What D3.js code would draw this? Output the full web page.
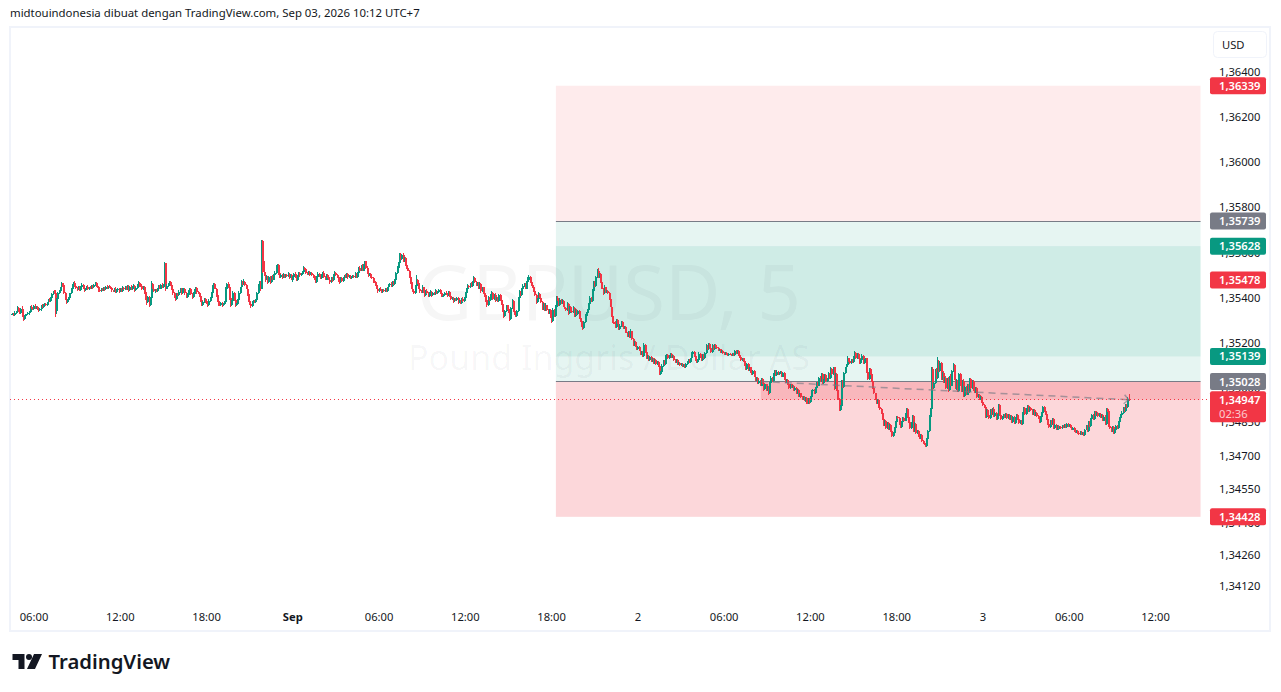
<!DOCTYPE html>
<html>
<head>
<meta charset="utf-8">
<script src="https://d3js.org/d3.v7.min.js"></script>
<style>
    html, body { margin: 0; padding: 0; background: #fff; }
    svg { display: block; }
    text { font-family: "Noto Sans", sans-serif; }
</style>
</head>
<body>
<div id="graph"></div>
<script>
"use strict";

// 5 minute candles, one row per hour. closes are in points above priceBase
var priceBase = 1.34;
var lastBarTime = "2026-09-03T10:10:00Z";
var firstOpen = 1324;

var closes = [
    1326,1326,1322,1331,1335,1353,1344,1331,1349,1318,1305,1318,
    1322,1327,1331,1335,1358,1353,1349,1362,1353,1358,1349,1344,
    1349,1362,1358,1366,1371,1366,1380,1389,1384,1397,1415,1424,
    1420,1340,1395,1420,1428,1445,1465,1455,1420,1395,1380,1388,
    1400,1420,1437,1455,1466,1450,1442,1437,1446,1433,1446,1455,
    1441,1433,1437,1446,1437,1446,1442,1451,1446,1455,1464,1451,
    1446,1433,1428,1437,1433,1442,1437,1446,1442,1451,1446,1442,
    1433,1428,1437,1424,1433,1437,1428,1437,1428,1442,1437,1446,
    1437,1451,1433,1446,1437,1446,1451,1433,1442,1455,1464,1451,
    1450,1437,1446,1425,1395,1380,1402,1366,1400,1460,1440,1430,
    1435,1428,1437,1450,1440,1455,1445,1458,1555,1440,1450,1460,
    1468,1455,1437,1420,1402,1393,1415,1411,1424,1437,1420,1433,
    1437,1420,1402,1411,1428,1437,1415,1402,1415,1433,1442,1424,
    1420,1405,1390,1368,1380,1395,1385,1375,1368,1385,1400,1420,
    1445,1460,1440,1410,1385,1372,1365,1378,1368,1372,1380,1440,
    1460,1445,1400,1365,1385,1420,1390,1365,1372,1388,1420,1445,
    1470,1460,1470,1455,1440,1415,1385,1370,1362,1380,1385,1380,
    1390,1420,1450,1470,1440,1650,1515,1500,1480,1490,1470,1490,
    1470,1492,1480,1500,1510,1530,1545,1510,1490,1500,1490,1500,
    1490,1500,1495,1505,1490,1500,1480,1490,1505,1490,1478,1495,
    1510,1500,1505,1515,1530,1525,1510,1505,1515,1505,1510,1500,
    1495,1480,1470,1490,1505,1495,1485,1500,1510,1490,1480,1500,
    1490,1480,1470,1485,1478,1500,1510,1500,1490,1475,1470,1485,
    1475,1485,1495,1490,1505,1490,1495,1485,1490,1495,1490,1505,
    1490,1510,1530,1520,1540,1520,1545,1560,1530,1510,1500,1505,
    1490,1485,1475,1470,1455,1440,1430,1440,1435,1425,1435,1430,
    1440,1430,1445,1455,1460,1450,1470,1460,1480,1510,1530,1555,
    1590,1570,1590,1560,1575,1545,1530,1520,1490,1470,1440,1430,
    1420,1450,1480,1465,1440,1430,1425,1445,1425,1410,1430,1420,
    1405,1420,1425,1410,1420,1415,1430,1420,1425,1435,1420,1405,
    1405,1410,1420,1415,1410,1425,1405,1395,1400,1385,1395,1390,
    1400,1380,1385,1375,1395,1385,1400,1420,1440,1450,1445,1460,
    1450,1470,1485,1470,1455,1465,1440,1460,1430,1445,1420,1410,
    1390,1365,1400,1390,1410,1420,1395,1410,1390,1400,1385,1410,
    1390,1370,1345,1320,1340,1365,1350,1335,1305,1355,1385,1340,
    1325,1320,1340,1400,1425,1410,1440,1450,1460,1440,1470,1480,
    1490,1470,1455,1445,1430,1410,1380,1395,1415,1400,1380,1350,
    1370,1345,1365,1345,1330,1345,1320,1295,1345,1320,1360,1400,
    1390,1365,1390,1375,1385,1360,1355,1345,1370,1330,1360,1340,
    1335,1355,1320,1345,1325,1340,1310,1295,1280,1265,1290,1320,
    1330,1345,1370,1400,1385,1430,1470,1450,1490,1520,1490,1505,
    1470,1440,1420,1445,1425,1430,1420,1395,1360,1320,1290,1285,
    1270,1300,1285,1260,1275,1290,1275,1265,1270,1245,1230,1250,
    1225,1250,1215,1190,1205,1185,1170,1180,1165,1150,1160,1140,
    1190,1160,1130,1140,1125,1135,1120,1130,1110,1125,1105,1115,
    1095,1060,1070,1095,1120,1105,1135,1145,1130,1140,1150,1135,
    1140,1125,1115,1125,1105,1110,1100,1105,1095,1100,1090,1105,
    1115,1125,1115,1130,1150,1160,1140,1125,1115,1125,1150,1135,
    1125,1145,1130,1155,1185,1170,1195,1175,1160,1185,1170,1190,
    1180,1175,1165,1170,1160,1165,1155,1150,1155,1150,1145,1150,
    1148,1145,1150,1145,1165,1155,1165,1145,1135,1125,1130,1120,
    1100,1085,1105,1080,1090,1070,1060,1075,1050,1035,1045,1020,
    1030,1010,1040,1020,995,1015,990,1005,975,1020,1045,1030,
    1060,1075,1055,1070,1060,1065,1070,1050,1065,1040,1025,1035,
    1015,1000,1015,1005,1010,990,1000,975,990,965,975,960,
    950,960,945,955,930,950,935,960,985,990,975,1000,
    1020,1010,1045,1030,1060,1020,1035,1055,1030,1040,1060,1045,
    1085,1060,1090,1000,1060,990,950,900,920,1030,1005,1065,
    1090,1100,1130,1120,1110,1125,1115,1135,1155,1130,1150,1130,
    1110,1125,1140,1110,1125,1130,1070,1040,1085,1060,1030,1000,
    975,950,930,945,915,905,890,860,835,855,820,845,
    815,835,810,785,800,820,850,870,865,840,825,850,
    865,855,880,905,870,850,820,845,875,810,840,800,
    810,785,775,790,765,755,750,740,775,810,870,905,
    1085,1000,1020,1080,1045,1120,1075,1110,1040,1065,1025,1045,
    1000,1040,990,1050,1010,1075,1100,1040,1000,1030,985,1060,
    1010,985,1030,965,1005,970,1015,980,1040,1000,1030,990,
    980,1000,960,970,950,960,935,925,915,870,900,880,
    865,900,885,905,875,890,860,880,925,880,860,870,
    880,870,885,865,880,860,875,850,870,845,865,880,
    860,845,855,840,890,910,885,905,920,895,910,900,
    885,900,880,890,875,865,850,870,890,915,895,885,
    860,840,825,855,840,860,820,835,815,830,820,825,
    820,830,825,835,825,840,830,835,825,815,820,810,
    805,810,800,795,805,795,800,790,815,830,810,850,
    830,860,880,860,895,880,890,875,885,870,880,855,
    870,840,905,895,830,820,810,825,800,815,830,820,
    850,865,880,890,910,895,925,915,950,947
];

var upperWicks = [
    0,4,4,8,4,9,4,8,4,13,4,4,
    4,0,4,4,4,9,4,4,8,4,4,4,
    4,4,8,4,4,4,0,4,8,4,4,4,
    8,14,4,4,4,4,4,0,9,4,4,4,
    4,0,4,4,4,9,4,4,4,4,4,9,
    4,4,4,4,9,0,4,4,4,4,4,4,
    4,4,9,4,4,4,4,4,9,0,4,4,
    4,0,4,9,4,4,4,4,4,9,4,4,
    4,4,4,4,9,4,9,4,4,4,9,4,
    4,9,4,4,4,9,4,4,4,13,4,4,
    4,4,4,4,4,4,9,4,3,0,9,4,
    4,4,9,4,4,4,4,4,9,4,4,9,
    4,4,4,9,4,4,4,4,9,4,4,4,
    4,4,4,9,4,4,4,4,4,9,4,4,
    9,4,4,4,4,4,9,4,4,4,4,9,
    4,9,4,4,4,9,4,4,4,4,9,4,
    9,4,13,4,4,4,4,9,4,4,4,4,
    4,4,9,4,4,5,5,45,4,9,4,4,
    4,4,9,4,9,13,4,4,9,4,4,9,
    4,4,4,9,4,4,4,4,4,9,4,4,
    4,4,4,4,9,4,4,4,4,4,4,4,
    4,4,4,4,9,4,4,4,4,9,4,4,
    4,9,4,4,4,4,9,4,4,4,4,4,
    4,4,4,9,4,4,4,4,4,4,4,9,
    4,4,4,9,4,9,4,4,4,9,4,4,
    4,4,4,4,4,4,4,4,9,4,4,4,
    4,4,4,4,4,9,4,4,4,4,9,4,
    7,9,4,9,4,4,4,9,4,4,4,4,
    9,4,18,4,4,4,4,9,4,4,4,9,
    4,4,9,4,4,4,9,4,4,4,4,4,
    4,4,4,9,4,4,4,4,4,4,4,4,
    4,4,4,4,4,9,4,4,4,9,4,4,
    9,4,9,4,4,4,4,9,4,4,4,4,
    9,4,9,4,4,9,4,4,9,4,4,4,
    4,4,9,4,4,4,4,4,4,4,9,4,
    4,4,4,4,9,4,4,9,4,4,4,9,
    9,4,4,4,4,9,4,4,9,4,4,4,
    4,4,9,4,4,4,4,4,9,4,9,9,
    9,4,9,4,9,4,4,4,9,4,4,4,
    4,9,4,4,4,4,4,4,4,4,4,9,
    4,4,4,9,4,9,4,4,4,6,9,4,
    4,4,4,9,4,4,4,4,4,4,4,4,
    9,4,4,4,9,4,4,4,4,4,4,4,
    4,9,4,4,4,4,4,4,4,4,4,4,
    9,4,4,4,4,4,4,4,4,4,4,4,
    4,4,4,9,4,4,9,4,4,4,4,4,
    4,4,4,4,4,4,4,4,4,4,4,4,
    4,4,4,4,9,4,4,4,4,4,9,4,
    4,4,4,4,9,4,4,4,4,9,4,4,
    4,4,4,4,4,4,4,4,4,4,4,4,
    4,4,4,4,4,4,4,4,4,4,4,4,
    4,9,4,4,4,4,4,4,4,4,4,4,
    4,4,4,4,4,4,4,4,4,4,9,4,
    4,4,4,9,4,4,4,4,4,4,4,4,
    4,4,4,4,4,4,4,4,4,4,4,4,
    4,4,4,4,4,4,4,4,4,4,4,4,
    4,4,4,9,4,4,4,4,4,4,9,4,
    9,4,4,4,4,4,4,4,4,4,4,4,
    4,4,9,4,4,4,4,4,9,4,4,4,
    4,4,9,4,4,4,4,4,4,4,4,4,
    4,4,4,4,4,4,4,4,4,4,4,4,
    4,4,4,4,4,4,4,4,4,4,9,4,
    4,4,9,4,4,4,9,4,4,4,9,4,
    4,4,4,4,4,4,4,4,4,4,9,4,
    6,9,4,4,9,17,4,9,4,4,9,4,
    9,4,9,4,9,4,9,4,4,9,4,4,
    4,4,4,9,4,4,4,4,4,4,4,4,
    4,4,4,4,4,4,4,4,4,4,4,4,
    4,4,4,4,9,4,4,4,4,4,4,4,
    4,4,4,4,4,4,4,4,4,4,4,4,
    4,4,4,4,4,4,4,4,4,4,4,4,
    4,4,4,4,4,4,4,4,4,4,4,4,
    4,4,4,4,4,4,4,4,4,4,4,4,
    4,4,4,4,4,4,4,4,4,4,4,4,
    4,4,4,4,4,4,4,4,4,4,4,4,
    4,4,4,4,4,4,4,4,4,4,4,4,
    4,9,4,4,4,4,4,4,4,4,4,4,
    4,4,4,9,4,4,4,4,9,22
];

var lowerWicks = [
    0,4,4,4,4,4,9,4,4,4,9,4,
    4,4,4,9,4,4,4,4,4,4,4,9,
    4,9,4,4,4,4,4,4,4,4,4,4,
    4,25,13,4,4,4,4,9,4,4,9,4,
    4,4,4,4,4,4,4,9,4,4,4,4,
    4,9,4,4,4,4,4,4,9,4,4,4,
    4,9,4,4,4,4,9,4,4,4,4,4,
    9,4,4,4,4,4,9,4,4,4,4,4,
    4,4,9,4,4,4,4,9,4,4,4,4,
    4,4,4,9,4,13,4,9,4,4,4,4,
    9,4,4,4,4,4,4,4,9,9,4,4,
    4,4,4,9,4,9,4,4,4,4,9,4,
    4,9,4,4,4,4,4,9,4,4,4,9,
    4,4,9,4,4,4,9,4,9,4,4,4,
    4,4,4,9,4,9,4,4,9,4,4,4,
    4,4,9,9,4,4,4,9,4,4,4,4,
    4,4,4,4,4,9,4,4,9,4,4,4,
    4,4,4,4,9,4,4,4,9,4,9,4,
    9,4,4,4,4,4,4,9,4,4,9,4,
    4,4,4,4,9,4,4,9,4,4,4,4,
    4,9,4,4,4,4,4,4,4,9,4,4,
    9,4,4,4,4,4,4,4,4,4,4,4,
    4,4,9,4,9,4,4,4,4,4,9,4,
    4,4,4,4,4,9,4,4,4,4,4,4,
    4,4,4,4,4,4,4,4,4,4,9,4,
    4,4,9,4,4,4,9,4,4,4,4,4,
    4,4,4,4,4,4,4,4,4,4,4,4,
    4,4,4,4,4,4,4,4,4,9,4,4,
    4,4,4,4,4,9,4,4,4,9,4,4,
    4,4,4,9,4,4,4,4,4,4,4,4,
    4,4,4,4,9,4,4,4,4,9,4,4,
    4,9,4,4,4,4,4,4,4,4,4,4,
    4,4,4,4,4,4,4,4,9,4,4,9,
    9,9,4,4,4,4,4,4,9,4,4,4,
    4,4,9,9,4,4,4,4,9,4,4,4,
    4,4,4,4,4,4,4,4,4,4,4,4,
    4,4,4,4,4,4,9,4,4,4,4,4,
    4,4,4,4,4,4,9,9,4,4,4,4,
    4,4,4,4,4,4,4,4,4,9,4,4,
    4,4,4,4,4,4,4,4,9,9,4,4,
    4,4,4,4,4,4,4,4,4,4,4,4,
    4,4,9,4,4,4,4,4,4,4,4,4,
    4,4,4,4,4,4,4,4,4,4,4,4,
    4,4,4,4,4,4,4,4,4,4,4,4,
    4,4,4,4,4,4,4,4,4,4,4,4,
    4,4,4,4,4,4,4,4,4,4,4,4,
    4,4,4,4,4,4,4,4,4,4,4,4,
    4,4,4,4,4,4,4,4,4,4,4,4,
    4,4,4,4,4,4,4,4,4,4,4,4,
    4,4,4,4,4,4,4,4,4,4,4,4,
    4,4,4,4,4,4,4,4,4,4,4,4,
    4,4,4,4,4,4,4,4,4,4,4,4,
    4,4,4,4,9,4,4,4,9,4,4,4,
    4,4,4,4,4,4,4,4,4,4,4,4,
    4,4,4,4,4,4,4,4,4,4,4,4,
    4,4,4,9,4,4,9,4,4,4,4,4,
    4,4,4,4,4,4,4,4,4,4,4,4,
    4,4,4,9,4,4,4,4,4,4,4,4,
    4,4,4,4,4,4,4,4,4,4,4,4,
    4,4,4,4,4,4,4,4,4,4,4,4,
    4,4,4,4,4,4,4,4,4,4,4,4,
    4,4,4,4,4,4,4,4,4,4,4,4,
    4,4,4,4,4,4,4,4,4,4,4,4,
    4,4,4,4,4,4,4,4,4,4,4,4,
    4,9,4,4,4,4,4,4,4,4,4,4,
    4,4,9,4,4,4,4,4,4,9,4,4,
    4,4,4,4,4,4,4,4,4,4,4,4,
    4,4,4,4,4,4,4,4,4,4,4,4,
    4,4,4,4,4,4,4,4,4,4,4,4,
    4,4,4,4,4,4,4,4,4,4,4,4,
    4,4,4,4,4,4,4,4,4,4,4,4,
    4,4,4,4,4,4,4,4,4,4,4,4,
    4,4,4,4,4,4,4,4,4,4,4,4,
    4,4,4,4,4,4,4,4,4,4,4,4,
    4,4,4,4,4,4,4,4,4,4,4,4,
    4,4,4,4,4,4,4,4,4,4,4,4,
    4,4,4,4,4,4,4,4,4,4,4,4,
    4,4,4,4,4,4,4,4,4,4
];

var priceTicks = [1.364, 1.362, 1.36, 1.358, 1.356, 1.354, 1.352, 1.35, 1.3485, 1.347, 1.3455, 1.344, 1.3426, 1.3412];

var timeTicks = [
    "2026-08-31T06:00:00Z", "2026-08-31T12:00:00Z", "2026-08-31T18:00:00Z", "2026-09-01T00:00:00Z",
    "2026-09-01T06:00:00Z", "2026-09-01T12:00:00Z", "2026-09-01T18:00:00Z", "2026-09-02T00:00:00Z",
    "2026-09-02T06:00:00Z", "2026-09-02T12:00:00Z", "2026-09-02T18:00:00Z", "2026-09-03T00:00:00Z",
    "2026-09-03T06:00:00Z", "2026-09-03T12:00:00Z"
];
var timeLabels = ["06:00", "12:00", "18:00", "Sep", "06:00", "12:00", "18:00", "2", "06:00", "12:00", "18:00", "3", "06:00", "12:00"];

var tagPrices = [1.36339, 1.35739, 1.35628, 1.35478, 1.35139, 1.35028, 1.34428];
var tagColors = ["#f23645", "#787b86", "#089981", "#f23645", "#089981", "#787b86", "#f23645"];

var lastPrice = 1.34947;
var countdown = "02:36";

var zoneStart = "2026-09-01T18:20:00Z";
var zoneEnd = "2026-09-03T15:10:00Z";
var fillStart = "2026-09-02T08:35:00Z";
var stopPrice = 1.36339;
var upperLine = 1.35739;
var targetTop = 1.35628;
var targetBottom = 1.35139;
var lowerLine = 1.35028;
var lowerStop = 1.34428;

var title = "midtouindonesia dibuat dengan TradingView.com, Sep 03, 2026 10:12 UTC+7";

var width = 1281, height = 692,
    green = "#089981", red = "#f23645", ink = "#131722";

var x = d3.scaleUtc()
    .domain([new Date("2026-09-01T00:00:00Z"), new Date("2026-09-03T12:00:00Z")])
    .range([292.3, 1155]);
var y = d3.scaleLinear().domain([1.364, 1.3412]).range([72, 586.3]);

var svg = d3.select("#graph").append("svg")
    .attr("width", width)
    .attr("height", height)
    .attr("viewBox", "0 0 " + width + " " + height);

// frame
svg.append("rect")
    .attr("x", 10).attr("y", 27).attr("width", 1260).attr("height", 604)
    .attr("fill", "#fff").attr("stroke", "#f0f3fa").attr("stroke-width", 2);

svg.append("text")
    .attr("x", 10).attr("y", 17)
    .attr("font-size", 11.4).attr("fill", ink)
    .text(title);

// watermark
var watermark = svg.append("g").attr("text-anchor", "middle").attr("fill", "rgba(19,23,34,0.04)");
watermark.append("text").attr("x", 609).attr("y", 320).attr("font-size", 76).text("GBPUSD, 5");
watermark.append("text").attr("x", 609).attr("y", 370).attr("font-size", 34).text("Pound Inggris / Dollar AS");

// position zones
function zone(t0, t1, p0, p1, fill) {
    return svg.append("rect")
        .attr("x", x(new Date(t0)))
        .attr("y", y(p0))
        .attr("width", x(new Date(t1)) - x(new Date(t0)))
        .attr("height", y(p1) - y(p0))
        .attr("fill", fill);
}
zone(zoneStart, zoneEnd, stopPrice, upperLine, "rgba(242,54,69,0.1)");
zone(zoneStart, zoneEnd, upperLine, lowerLine, "rgba(8,153,129,0.1)");
zone(zoneStart, zoneEnd, targetTop, targetBottom, "rgba(8,153,129,0.1)");
zone(zoneStart, zoneEnd, lowerLine, lowerStop, "rgba(242,54,69,0.2)");
zone(fillStart, zoneEnd, lowerLine, lastPrice, "rgba(242,54,69,0.2)");

[upperLine, lowerLine].forEach(function(p){
    svg.append("line")
        .attr("x1", x(new Date(zoneStart))).attr("x2", x(new Date(zoneEnd)))
        .attr("y1", Math.floor(y(p)) + 0.5).attr("y2", Math.floor(y(p)) + 0.5)
        .attr("stroke", "#787b86").attr("stroke-width", 1);
});

// candles
var lastTime = new Date(lastBarTime).getTime();
var bars = closes.map(function(c, i){
    var open = i ? closes[i - 1] : firstOpen;
    return {
        time: new Date(lastTime - (closes.length - 1 - i) * 300000),
        open: priceBase + open / 1e5,
        close: priceBase + c / 1e5,
        high: priceBase + (Math.max(open, c) + upperWicks[i]) / 1e5,
        low: priceBase + (Math.min(open, c) - lowerWicks[i]) / 1e5
    };
});

function candleColor(d){ return d.close >= d.open ? green : red; }

var candles = svg.append("g").attr("shape-rendering", "crispEdges")
    .selectAll("g")
    .data(bars)
    .enter()
    .append("g");

// wick 1px, body 2px
candles.append("rect")
    .attr("x", function(d){ return Math.round(x(d.time)); })
    .attr("y", function(d){ return y(d.high); })
    .attr("width", 1)
    .attr("height", function(d){ return Math.max(1, y(d.low) - y(d.high)); })
    .attr("fill", candleColor);
candles.append("rect")
    .attr("x", function(d){ return Math.round(x(d.time)); })
    .attr("y", function(d){ return y(Math.max(d.open, d.close)); })
    .attr("width", 2)
    .attr("height", function(d){ return Math.max(1, Math.abs(y(d.close) - y(d.open))); })
    .attr("fill", candleColor);

// fill trend line
svg.append("line")
    .attr("x1", x(new Date(fillStart))).attr("y1", y(lowerLine))
    .attr("x2", x(new Date(lastTime))).attr("y2", y(lastPrice))
    .attr("stroke", "rgba(120,123,134,0.65)")
    .attr("stroke-width", 1.5)
    .attr("stroke-dasharray", "7 5");
svg.append("path")
    .attr("transform", "translate(" + x(new Date(lastTime)) + "," + y(lastPrice) + ")")
    .attr("d", "M-4,-5 L0,0 L-5,4")
    .attr("fill", "none")
    .attr("stroke", "rgba(120,123,134,0.65)")
    .attr("stroke-width", 1.5);

// last price line
svg.append("line")
    .attr("x1", 10).attr("x2", 1208)
    .attr("y1", Math.floor(y(lastPrice)) + 0.5).attr("y2", Math.floor(y(lastPrice)) + 0.5)
    .attr("stroke", red)
    .attr("shape-rendering", "crispEdges")
    .attr("stroke-dasharray", "1 3");

// axes
var yAxis = d3.axisRight(y)
    .tickValues(priceTicks)
    .tickSize(0)
    .tickPadding(0)
    .tickFormat(function(d){ return d3.format(".5f")(d).replace(".", ","); });
var yAxisG = svg.append("g").attr("transform", "translate(1219,0)").call(yAxis);
yAxisG.select(".domain").remove();
yAxisG.selectAll("text").attr("font-size", 11.2).attr("fill", ink).attr("font-family", null);

var xAxis = d3.axisBottom(x)
    .tickValues(timeTicks.map(function(t){ return new Date(t); }))
    .tickSize(0)
    .tickPadding(0)
    .tickFormat(function(d, i){ return timeLabels[i]; });
var xAxisG = svg.append("g").attr("transform", "translate(0,613.5)").call(xAxis);
xAxisG.select(".domain").remove();
xAxisG.selectAll("text")
    .attr("font-size", 11.2).attr("fill", ink).attr("font-family", null)
    .attr("font-weight", function(d, i){ return timeLabels[i] == "Sep" ? "bold" : null; });

// price tags
var tags = svg.append("g").selectAll("g")
    .data(tagPrices)
    .enter()
    .append("g")
    .attr("transform", function(d){ return "translate(1210," + y(d) + ")"; });
tags.append("rect")
    .attr("y", -8.5).attr("width", 56).attr("height", 17).attr("rx", 2)
    .attr("fill", function(d, i){ return tagColors[i]; });
tags.append("text")
    .attr("x", 9).attr("dy", "0.36em")
    .attr("font-size", 11.2).attr("font-weight", 600).attr("fill", "#fff")
    .text(function(d){ return d3.format(".5f")(d).replace(".", ","); });

var lastTag = svg.append("g").attr("transform", "translate(1210," + y(lastPrice) + ")");
lastTag.append("rect")
    .attr("y", -8.5).attr("width", 56).attr("height", 31).attr("rx", 2).attr("fill", red);
lastTag.append("text")
    .attr("x", 9).attr("dy", "0.36em")
    .attr("font-size", 11.2).attr("font-weight", 600).attr("fill", "#fff")
    .text(d3.format(".5f")(lastPrice).replace(".", ","));
lastTag.append("text")
    .attr("x", 9).attr("y", 14).attr("dy", "0.36em")
    .attr("font-size", 11.2).attr("fill", "rgba(255,255,255,0.75)")
    .text(countdown);

// currency button
svg.append("rect")
    .attr("x", 1213.5).attr("y", 31.5).attr("width", 53).attr("height", 26).attr("rx", 4)
    .attr("fill", "#fff").attr("stroke", "#f0f3fa");
svg.append("text")
    .attr("x", 1222).attr("y", 49)
    .attr("font-size", 11.2).attr("fill", ink)
    .text("USD");

// logo
var logo = svg.append("g").attr("fill", ink);
logo.append("path").attr("d", "M12.5,654 H24.5 V669 H18.5 V660 H12.5 Z");
logo.append("circle").attr("cx", 29).attr("cy", 657).attr("r", 3);
logo.append("path").attr("d", "M34,654 H42 L35,669 H27 Z");
logo.append("text")
    .attr("x", 48.5).attr("y", 669)
    .attr("font-family", "Inter, sans-serif")
    .attr("font-size", 20.3).attr("font-weight", 600)
    .text("TradingView");
</script>
</body>
</html>
